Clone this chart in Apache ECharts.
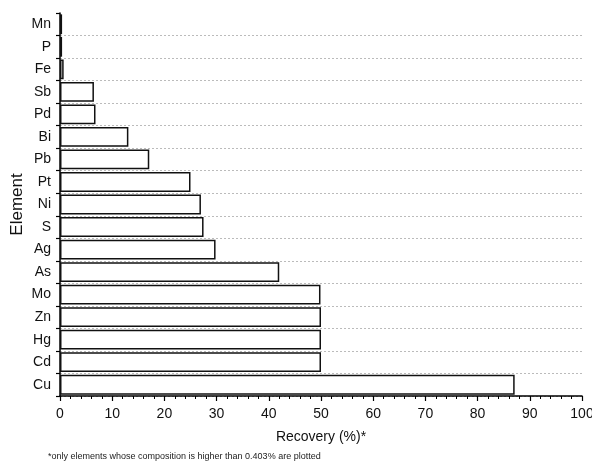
<!DOCTYPE html>
<html>
<head>
<meta charset="utf-8">
<script src="https://cdn.jsdelivr.net/npm/echarts@6/dist/echarts.min.js"></script>
<style>html,body{margin:0;padding:0;background:#fff;}#c{width:592px;height:464px;}</style>
</head>
<body>
<div id="c"></div>
<script>
const categories = ['Mn','P','Fe','Sb','Pd','Bi','Pb','Pt','Ni','S','Ag','As','Mo','Zn','Hg','Cd','Cu'];
const recovery = [0.4, 0.4, 0.7, 6.5, 6.8, 13.1, 17.1, 25.0, 27.0, 27.5, 29.8, 42.0, 49.9, 50.0, 50.0, 50.0, 87.1];
const xTicks = [0,10,20,30,40,50,60,70,80,90,100];
const footnote = '*only elements whose composition is higher than 0.403% are plotted';

const chart = echarts.init(document.getElementById('c'), null, {renderer:'canvas'});
chart.setOption({
  animation:false,
  backgroundColor:'#fff',
  textStyle:{fontFamily:'Liberation Sans, Arial, sans-serif'},
  grid:{left:60, right:10, top:13, bottom:68, outerBoundsMode:'none', containLabel:false},
  graphic:[{
    type:'text', left:48, top:452,
    style:{text:footnote, font:'9px Liberation Sans, Arial, sans-serif', fill:'#222'}
  }],
  xAxis:{
    type:'value', min:xTicks[0], max:xTicks[xTicks.length-1], interval:10,
    name:'Recovery (%)*', nameLocation:'middle', nameGap:34, nameMoveOverlap:false,
    nameTextStyle:{fontSize:14, color:'#111', fontFamily:'Liberation Sans, Arial, sans-serif'},
    axisLine:{show:true, lineStyle:{color:'#000', width:1.5}},
    axisTick:{show:true, length:5, lineStyle:{color:'#000', width:1.2}},
    minorTick:{show:true, splitNumber:5, length:3, lineStyle:{color:'#000', width:1}},
    axisLabel:{fontSize:14, color:'#111', margin:11},
    splitLine:{show:false}
  },
  yAxis:{
    type:'category', data:categories, inverse:true,
    name:'Element', nameLocation:'middle', nameGap:34, nameRotate:90, nameMoveOverlap:false,
    nameTextStyle:{fontSize:17, color:'#111', fontFamily:'Liberation Sans, Arial, sans-serif'},
    axisLine:{show:true, lineStyle:{color:'#000', width:1.5}},
    axisTick:{show:true, length:4, lineStyle:{color:'#000', width:1.2}},
    axisLabel:{fontSize:14, color:'#111', margin:9},
    splitLine:{show:true, interval:function(i){return i !== 0;}, lineStyle:{color:'#bbb', type:[2,2], width:1}}
  },
  series:[{
    type:'bar', data:recovery, barCategoryGap:'12%',
    itemStyle:{color:'#fff', borderColor:'#111', borderWidth:1.5}
  }]
});
</script>
</body>
</html>
